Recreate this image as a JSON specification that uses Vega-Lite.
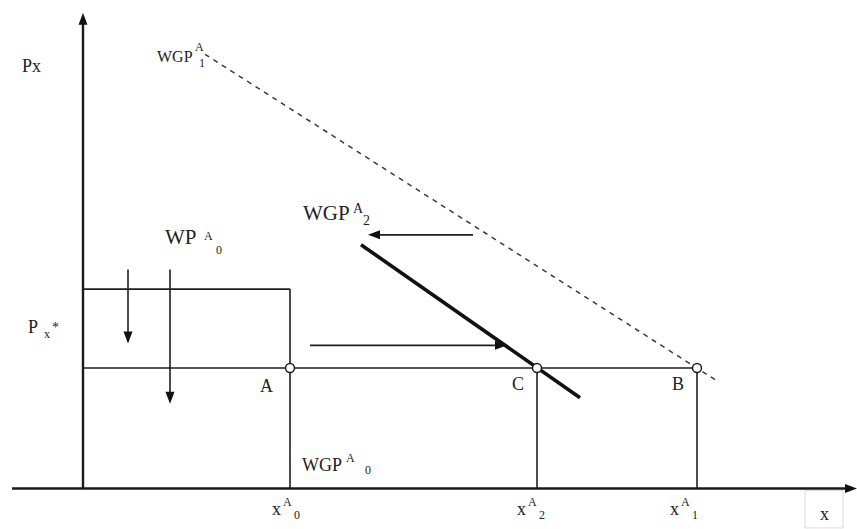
{
  "$schema": "https://vega.github.io/schema/vega-lite/v6.json",
  "width": 857,
  "height": 529,
  "autosize": {"type": "fit", "contains": "padding"},
  "padding": 0,
  "background": "white",
  "config": {"view": {"stroke": null}},
  "datasets": {
    "axes": [
      {"x": -71, "y": 0, "x2": 766, "y2": 0},
      {"x": 0, "y": 0, "x2": 0, "y2": 474}
    ],
    "thin": [
      {"x": 0, "y": 202, "x2": 207, "y2": 202},
      {"x": 207, "y": 202, "x2": 207, "y2": 0},
      {"x": 0, "y": 122, "x2": 614, "y2": 122},
      {"x": 454, "y": 122, "x2": 454, "y2": 0},
      {"x": 614, "y": 122, "x2": 614, "y2": 0},
      {"x": 45, "y": 222, "x2": 45, "y2": 153},
      {"x": 87, "y": 222, "x2": 87, "y2": 92},
      {"x": 390, "y": 257, "x2": 291, "y2": 257},
      {"x": 227, "y": 145, "x2": 418, "y2": 145}
    ],
    "bold": [{"x": 278, "y": 247, "x2": 497, "y2": 92}],
    "dashed": [{"x": 122, "y": 440, "x2": 634, "y2": 109}],
    "heads": [
      {"x": 45, "y": 153, "dir": "down"},
      {"x": 87, "y": 92, "dir": "down"},
      {"x": 291, "y": 257, "dir": "left"},
      {"x": 418, "y": 145, "dir": "right"},
      {"x": 0, "y": 476, "dir": "up"},
      {"x": 768, "y": 0, "dir": "right"}
    ],
    "points": [
      {"x": 207, "y": 122, "name": "A"},
      {"x": 454, "y": 122, "name": "C"},
      {"x": 614, "y": 122, "name": "B"}
    ],
    "box": [{"x": 722, "y": -2, "x2": 760, "y2": -40}],
    "labels": [
      {"x": -61, "y": 422, "t": "Px", "role": "main"},
      {"x": 74, "y": 432, "t": "WGP", "role": "small"},
      {"x": 112, "y": 443, "t": "A", "role": "sup"},
      {"x": 116, "y": 427, "t": "1", "role": "sup"},
      {"x": 220, "y": 272, "t": "WGP", "role": "large"},
      {"x": 270, "y": 279, "t": "A", "role": "supL"},
      {"x": 280, "y": 267, "t": "2", "role": "supL"},
      {"x": 82, "y": 248, "t": "WP", "role": "large"},
      {"x": 121, "y": 252, "t": "A", "role": "sup"},
      {"x": 133, "y": 238, "t": "0", "role": "sup"},
      {"x": -55, "y": 158, "t": "P", "role": "main"},
      {"x": -39, "y": 152, "t": "x", "role": "sup"},
      {"x": -31, "y": 159, "t": "*", "role": "supL"},
      {"x": 177, "y": 98, "t": "A", "role": "main"},
      {"x": 429, "y": 100, "t": "C", "role": "main"},
      {"x": 589, "y": 100, "t": "B", "role": "main"},
      {"x": 219, "y": 18, "t": "WGP", "role": "main"},
      {"x": 263, "y": 27, "t": "A", "role": "sup"},
      {"x": 282, "y": 15, "t": "0", "role": "sup"},
      {"x": 189, "y": -27, "t": "x", "role": "main"},
      {"x": 200, "y": -18, "t": "A", "role": "sup"},
      {"x": 211, "y": -31, "t": "0", "role": "sup"},
      {"x": 434, "y": -27, "t": "x", "role": "main"},
      {"x": 445, "y": -18, "t": "A", "role": "sup"},
      {"x": 456, "y": -31, "t": "2", "role": "sup"},
      {"x": 587, "y": -27, "t": "x", "role": "main"},
      {"x": 598, "y": -18, "t": "A", "role": "sup"},
      {"x": 609, "y": -31, "t": "1", "role": "sup"},
      {"x": 737, "y": -32, "t": "x", "role": "main"}
    ]
  },
  "encoding": {
    "x": {"field": "x", "type": "quantitative", "scale": {"domain": [-83, 774], "nice": false, "zero": false}, "axis": null},
    "y": {"field": "y", "type": "quantitative", "scale": {"domain": [-34, 495], "nice": false, "zero": false}, "axis": null}
  },
  "layer": [
    {
      "data": {"name": "box"},
      "mark": {"type": "rect", "fill": null, "fillOpacity": 0, "stroke": "#dcdcdc", "strokeWidth": 1},
      "encoding": {"x2": {"field": "x2"}, "y2": {"field": "y2"}}
    },
    {
      "data": {"name": "thin"},
      "mark": {"type": "rule", "color": "#1e1e1e", "strokeWidth": 1.6},
      "encoding": {"x2": {"field": "x2"}, "y2": {"field": "y2"}}
    },
    {
      "data": {"name": "axes"},
      "mark": {"type": "rule", "color": "#1a1a1a", "strokeWidth": 2.4},
      "encoding": {"x2": {"field": "x2"}, "y2": {"field": "y2"}}
    },
    {
      "data": {"name": "dashed"},
      "mark": {"type": "rule", "color": "#3a3a3a", "strokeWidth": 1.5, "strokeDash": [5, 5]},
      "encoding": {"x2": {"field": "x2"}, "y2": {"field": "y2"}}
    },
    {
      "data": {"name": "bold"},
      "mark": {"type": "rule", "color": "#111111", "strokeWidth": 3.6},
      "encoding": {"x2": {"field": "x2"}, "y2": {"field": "y2"}}
    },
    {
      "data": {"name": "heads"},
      "mark": {"type": "point", "filled": true, "color": "#111111", "opacity": 1, "size": 144},
      "encoding": {
        "shape": {
          "field": "dir",
          "type": "nominal",
          "legend": null,
          "scale": {
            "domain": ["up", "down", "left", "right"],
            "range": ["M0,-1L0.75,1L-0.75,1Z", "M0,1L0.75,-1L-0.75,-1Z", "M-1,0L1,-0.75L1,0.75Z", "M1,0L-1,-0.75L-1,0.75Z"]
          }
        }
      }
    },
    {
      "data": {"name": "points"},
      "mark": {"type": "point", "shape": "circle", "size": 80, "fill": "white", "fillOpacity": 1, "stroke": "#1e1e1e", "strokeWidth": 1.5, "opacity": 1}
    },
    {
      "data": {"name": "labels"},
      "transform": [{"filter": "datum.role === 'main'"}],
      "mark": {"type": "text", "align": "left", "baseline": "alphabetic", "font": "Liberation Serif", "fontSize": 18, "color": "#222222"},
      "encoding": {"text": {"field": "t"}}
    },
    {
      "data": {"name": "labels"},
      "transform": [{"filter": "datum.role === 'small'"}],
      "mark": {"type": "text", "align": "left", "baseline": "alphabetic", "font": "Liberation Serif", "fontSize": 16, "color": "#222222"},
      "encoding": {"text": {"field": "t"}}
    },
    {
      "data": {"name": "labels"},
      "transform": [{"filter": "datum.role === 'large'"}],
      "mark": {"type": "text", "align": "left", "baseline": "alphabetic", "font": "Liberation Serif", "fontSize": 21, "color": "#222222"},
      "encoding": {"text": {"field": "t"}}
    },
    {
      "data": {"name": "labels"},
      "transform": [{"filter": "datum.role === 'sup'"}],
      "mark": {"type": "text", "align": "left", "baseline": "alphabetic", "font": "Liberation Serif", "fontSize": 12, "color": "#222222"},
      "encoding": {"text": {"field": "t"}}
    },
    {
      "data": {"name": "labels"},
      "transform": [{"filter": "datum.role === 'supL'"}],
      "mark": {"type": "text", "align": "left", "baseline": "alphabetic", "font": "Liberation Serif", "fontSize": 14, "color": "#222222"},
      "encoding": {"text": {"field": "t"}}
    }
  ]
}
